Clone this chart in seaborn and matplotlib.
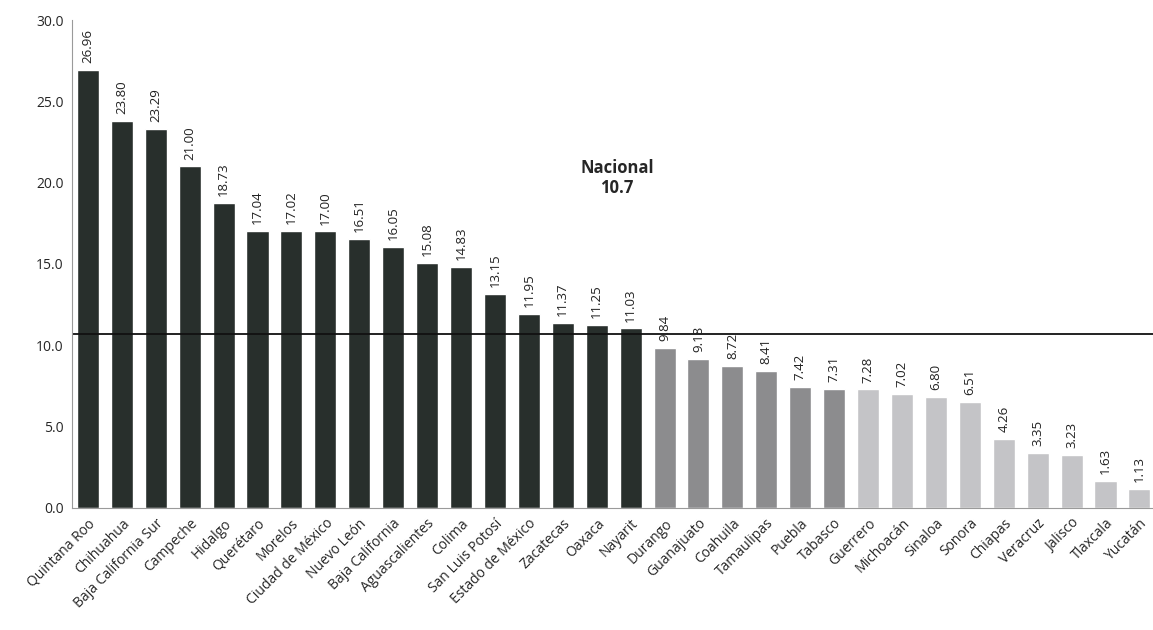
import numpy as np
import pandas as pd
import matplotlib
matplotlib.use("Agg")
import matplotlib.pyplot as plt
import seaborn as sb

# Data
estados = ["Quintana Roo", "Chihuahua", "Baja California Sur", "Campeche", "Hidalgo",
           "Querétaro", "Morelos", "Ciudad de México", "Nuevo León", "Baja California",
           "Aguascalientes", "Colima", "San Luis Potosí", "Estado de México", "Zacatecas",
           "Oaxaca", "Nayarit", "Durango", "Guanajuato", "Coahuila", "Tamaulipas",
           "Puebla", "Tabasco", "Guerrero", "Michoacán", "Sinaloa", "Sonora", "Chiapas",
           "Veracruz", "Jalisco", "Tlaxcala", "Yucatán"]
valores = [26.96, 23.80, 23.29, 21.00, 18.73, 17.04, 17.02, 17.00, 16.51, 16.05,
           15.08, 14.83, 13.15, 11.95, 11.37, 11.25, 11.03, 9.84, 9.18, 8.72, 8.41,
           7.42, 7.31, 7.28, 7.02, 6.80, 6.51, 4.26, 3.35, 3.23, 1.63, 1.13]
grupos = ["alto"] * 17 + ["medio"] * 6 + ["bajo"] * 9
nacional = 10.7
yticks = [0, 5, 10, 15, 20, 25, 30]

colores = {"alto": "#27302c", "medio": "#8c8c8e", "bajo": "#c3c3c8"}

df = pd.DataFrame({"estado": estados, "valor": valores, "grupo": grupos})

sb.set_style("white")
plt.rcParams["font.family"] = ["Open Sans", "DejaVu Sans"]

fig = plt.figure(figsize=(11.53, 6.3), dpi=100)
ax = fig.add_axes([0.0624, 0.194, 0.9376, 0.774])

sb.barplot(data=df, x="estado", y="valor", hue="grupo", palette=colores,
           dodge=False, legend=False, width=0.65, ax=ax)

for cont in ax.containers:
    ax.bar_label(cont, fmt="%.2f", rotation=90, padding=5, fontsize=9.5, color="#222222")

ax.axhline(nacional, color="#111111", lw=1.3, zorder=1)
ax.text(15.6, 20.3, "Nacional\n{}".format(nacional), ha="center", va="center",
        fontsize=12, fontweight="bold", linespacing=1.1)

ax.set_ylim(0, 30)
ax.set_xlim(-0.47, 31.4)
ax.set_yticks(yticks)
ax.set_yticklabels(["{:.1f}".format(t) for t in yticks], fontsize=10)
ax.set_xticks(range(len(estados)))
ax.set_xticklabels(estados, rotation=45, ha="right", rotation_mode="anchor", fontsize=10)
ax.tick_params(axis="both", length=0, pad=6)
ax.set_xlabel("")
ax.set_ylabel("")

for s in ["top", "right"]:
    ax.spines[s].set_visible(False)
for s in ["left", "bottom"]:
    ax.spines[s].set_color("#9a9a9a")
    ax.spines[s].set_linewidth(0.8)

plt.savefig("out.png", dpi=100)
